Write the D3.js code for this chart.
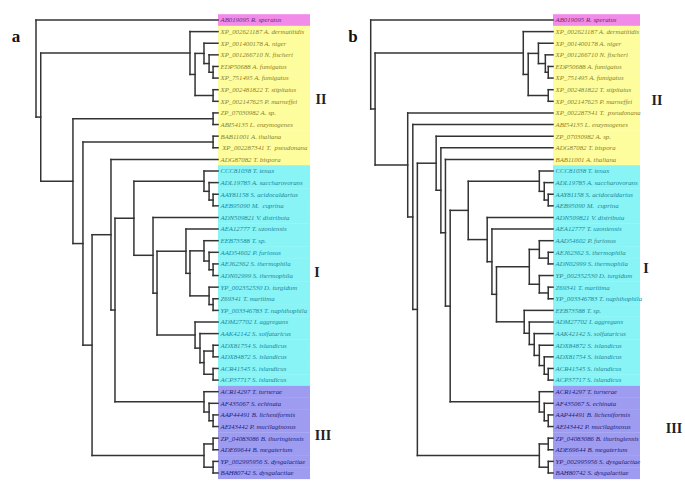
<!DOCTYPE html>
<html><head><meta charset="utf-8">
<script src="https://cdn.jsdelivr.net/npm/d3@7"></script>
<style>body{margin:0;background:#fff}svg{display:block}</style>
</head><body>
<script>
// ---------- DATA ----------
const taxaA = [
 "AB019095 R. speratus","XP_002621187 A. dermatitidis","XP_001400178 A. niger","XP_001266710 N. fischeri",
 "EDP50688 A. fumigatus","XP_751495 A. fumigatus","XP_002481822 T. stipitatus","XP_002147625 P. marneffei",
 "ZP_07030982 A. sp.","ABI54135 L. enzymogenes","BAB11001 A. thaliana"," XP_002287341 T.  pseudonana",
 "ADG87082 T. bispora","CCC81038 T. tenax","ADL19785 A. saccharovorans","AAY81158 S. acidocaldarius",
 "AEB95090 M.  cuprina","ADN509821 V. distributa","AEA12777 T. uzoniensis","EEB73588 T. sp.",
 "AAD54602 P. furiosus","AEJ62362 S. thermophila","ADN02999 S. thermophila","YP_002352530 D. turgidum",
 "Z69341 T. maritima","YP_003346783 T. naphthophila","ADM27702 I. aggregans","AAK42142 S. solfataricus",
 "ADX81754 S. islandicus","ADX84872 S. islandicus","ACR41545 S. islandicus","ACP37717 S. islandicus",
 "ACR14297 T. turnerae","AF435067 S. echinata","AAP44491 B. licheniformis","AEI43442 P. mucilaginosus",
 "ZP_04083086 B. thuringiensis","ADE69644 B. megaterium","YP_002995956 S. dysgalactiae","BAH80742 S. dysgalactiae"
];
const taxaB = [
 "AB019095 R. speratus","XP_002621187 A. dermatitidis","XP_001400178 A. niger","XP_001266710 N. fischeri",
 "EDP50688 A. fumigatus","XP_751495 A. fumigatus","XP_002481822 T. stipitatus","XP_002147625 P. marneffei",
 "XP_002287341 T.  pseudonana","ABI54135 L. enzymogenes","ZP_07030982 A. sp.","ADG87082 T. bispora",
 "BAB11001 A. thaliana","CCC81038 T. tenax","ADL19785 A. saccharovorans","AAY81158 S. acidocaldarius",
 "AEB95090 M.  cuprina","ADN509821 V. distributa","AEA12777 T. uzoniensis","AAD54602 P. furiosus",
 "AEJ62362 S. thermophila","ADN02999 S. thermophila","YP_002352530 D. turgidum","Z69341 T. maritima",
 "YP_003346783 T. naphthophila","EEB73588 T. sp.","ADM27702 I. aggregans","AAK42142 S. solfataricus",
 "ADX84872 S. islandicus","ADX81754 S. islandicus","ACR41545 S. islandicus","ACP37717 S. islandicus",
 "ACR14297 T. turnerae","AF435067 S. echinata","AAP44491 B. licheniformis","AEI43442 P. mucilaginosus",
 "ZP_04083086 B. thuringiensis","ADE69644 B. megaterium","YP_002995956 S. dysgalactiae","BAH80742 S. dysgalactiae"
];
// clade groups: [name, first leaf, last leaf]
const cladeRanges = [["O",1,1],["II",2,13],["I",14,32],["III",33,40]];
const cladeLabels = ["II","I","III"];
const panelLabels = ["a","b"];
// internal nodes: [id, depth (tips = 100), child, child]; numbers are leaves (row order)
const cladesA = [
 ["root",0,1,"n1"],["n1",2.6,"fun","n2"],["fun",84.6,2,"f1"],["f1",87.4,"f2","f5"],
 ["f2",92.3,3,"f3"],["f3",95.1,4,"f4"],["f4",97.3,5,6],["f5",97.3,7,8],
 ["n2",20.3,"p9","n3"],["p9",97.3,9,10],["n3",25.8,"p11","n4"],["p11",97.3,11,12],
 ["n4",30.8,"n5","v0"],["n5",41.2,13,"n6"],["n6",43.4,"n7","u1"],["n7",53.8,"c1","n8"],
 ["c1",92.3,14,"c2"],["c2",95.1,15,"c3"],["c3",97.3,16,17],["n8",64.3,18,"n9"],
 ["n9",66.5,"n10","s1"],["n10",82.4,19,"n11"],["n11",84.6,"t1","t4"],["t1",92.3,20,"t2"],
 ["t2",95.1,21,"t3"],["t3",97.3,22,23],["t4",95.1,24,"t5"],["t5",97.3,25,26],
 ["s1",87.4,27,"s2"],["s2",90.1,28,"s3"],["s3",92.3,"s4","s5"],["s4",97.3,29,30],["s5",97.3,31,32],
 ["u1",92.3,33,"u2"],["u2",95.1,34,"u3"],["u3",97.3,35,36],
 ["v0",92.3,"v1","v2"],["v1",97.3,37,38],["v2",97.3,39,40]
];
const cladesB = [
 ["root",0,1,"n1"],["n1",2.4,"fun","n2"],["fun",83.7,2,"f1"],["f1",86.4,"f2","f5"],
 ["f2",92.0,3,"f3"],["f3",95.8,4,"f4"],["f4",97.4,5,6],["f5",97.4,7,8],
 ["n2",20.3,9,"n3"],["n3",23.1,10,"n4"],["n4",25.6,"n5","v0"],["n5",35.9,11,"n6"],
 ["n6",38.5,12,"n7"],["n7",41.0,13,"n8"],["n8",43.6,"n9","u1"],["n9",53.5,"c1","n10"],
 ["c1",92.5,14,"c2"],["c2",95.2,15,"c3"],["c3",97.4,16,17],["n10",63.9,18,"n11"],
 ["n11",66.5,19,"n12"],["n12",69.0,"t0","s0"],["t0",87.0,"t1","t3"],["t1",92.5,20,"t2"],
 ["t2",97.4,21,22],["t3",92.5,23,"t4"],["t4",97.4,24,25],
 ["s0",84.2,26,"s1"],["s1",87.0,27,"s2"],["s2",89.7,28,"s3"],["s3",92.5,29,"s4"],["s4",95.2,30,"s5"],["s5",97.4,31,32],
 ["u1",92.5,33,"u2"],["u2",95.2,34,"u3"],["u3",97.4,35,36],
 ["v0",92.5,"v1","v2"],["v1",97.4,37,38],["v2",97.4,39,40]
];

// ---------- STYLE ----------
const W = 685, H = 486;
const bandFill = {O:"#f28ae9", II:"#fdfd9e", I:"#88f4f6", III:"#9e9cf0"};
const textFill = {O:"#6b2a66", II:"#8d7f2a", I:"#23889a", III:"#1e1c78"};
const panels = [
  {taxa: taxaA, clades: cladesA, x0: 36, x1: 218, boxR: 310,
   label: {x: 16, y: 42}, roman: [{x:321,y:104},{x:317,y:277},{x:323,y:440}]},
  {taxa: taxaB, clades: cladesB, x0: 370.7, x1: 553, boxR: 640,
   label: {x: 353, y: 42}, roman: [{x:657,y:105},{x:646,y:273},{x:674,y:433}]}
];

const svg = d3.select("body").append("svg").attr("width", W).attr("height", H);
svg.append("rect").attr("width", W).attr("height", H).attr("fill", "#fff");

const y = d3.scaleLinear().domain([1, 40]).range([20, 473]);
const step = y(2) - y(1);
const cladeOf = i => cladeRanges.find(c => i >= c[1] && i <= c[2])[0];

panels.forEach((p, pi) => {
  const x = d3.scaleLinear().domain([0, 100]).range([p.x0, p.x1]);
  const g = svg.append("g");

  // build hierarchy
  const byId = new Map(p.clades.map(c => [c[0], c]));
  const build = ref => {
    if (typeof ref === "number") return {leaf: ref, depth: 100};
    const c = byId.get(ref);
    return {id: ref, depth: c[1], children: [build(c[2]), build(c[3])]};
  };
  const root = d3.hierarchy(build("root"));
  root.eachAfter(n => {
    n.py = n.children ? (n.children[0].py + n.children[n.children.length - 1].py) / 2 : y(n.data.leaf);
  });

  // label bands
  const leaves = d3.range(1, 41);
  g.selectAll("rect.band").data(leaves).join("rect")
    .attr("x", p.x1).attr("width", p.boxR - p.x1)
    .attr("y", i => y(i) - step / 2).attr("height", step + 0.3)
    .attr("fill", i => bandFill[cladeOf(i)]);

  g.selectAll("text.taxon").data(leaves).join("text")
    .attr("x", p.x1 + 2.5).attr("y", i => y(i) + 2.4)
    .attr("font-family", "Liberation Serif, Times New Roman, serif")
    .attr("font-style", "italic").attr("font-size", 6.8)
    .style("white-space", "pre")
    .attr("fill", i => textFill[cladeOf(i)])
    .text(i => p.taxa[i - 1]);

  // branches
  const segs = [];
  root.each(n => {
    if (!n.children) return;
    const nx = x(n.data.depth);
    segs.push([nx, n.children[0].py, nx, n.children[n.children.length - 1].py]);
    n.children.forEach(c => segs.push([nx, c.py, x(c.data.depth), c.py]));
  });
  g.selectAll("line").data(segs).join("line")
    .attr("x1", d => d[0]).attr("y1", d => d[1]).attr("x2", d => d[2]).attr("y2", d => d[3])
    .attr("stroke", "#333").attr("stroke-width", 1.5).attr("stroke-linecap", "square");

  // clade numerals
  cladeLabels.forEach((t, k) => {
    g.append("text").attr("x", p.roman[k].x).attr("y", p.roman[k].y)
      .attr("text-anchor", "middle")
      .attr("font-family", "Liberation Serif, Times New Roman, serif")
      .attr("font-weight", "bold").attr("font-size", 14).attr("fill", "#222").text(t);
  });
  g.append("text").attr("x", p.label.x).attr("y", p.label.y).attr("text-anchor", "middle")
    .attr("font-family", "Liberation Serif, Times New Roman, serif")
    .attr("font-weight", "bold").attr("font-size", 17).attr("fill", "#111").text(panelLabels[pi]);
});
</script>
</body></html>
